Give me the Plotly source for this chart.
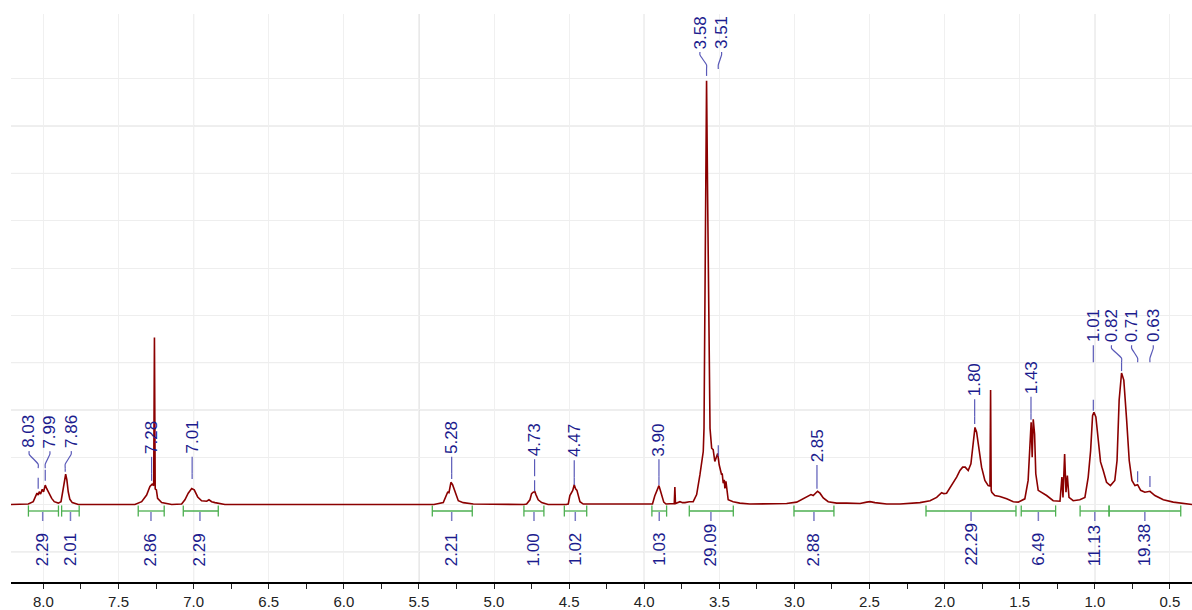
import plotly.graph_objects as go

# ---------------- data ----------------
ppm = [8.216, 8.190, 8.101, 8.068, 8.052, 8.043, 8.035, 8.028, 8.019, 8.008, 7.999, 7.988, 7.979, 7.968, 7.959,
       7.945, 7.928, 7.901, 7.883, 7.872, 7.862, 7.852, 7.844, 7.835, 7.824, 7.808, 7.768,
       7.391, 7.346, 7.313, 7.291, 7.276, 7.266, 7.261, 7.256, 7.248, 7.240, 7.213, 7.146,
       7.080, 7.058, 7.036, 7.013, 6.996, 6.973, 6.947, 6.913, 6.898, 6.880, 6.858, 6.792,
       5.400, 5.338, 5.320, 5.309, 5.300, 5.287, 5.276, 5.267, 5.254, 5.238, 5.205, 5.138,
       4.800, 4.783, 4.761, 4.750, 4.739, 4.728, 4.721, 4.706, 4.683, 4.640,
       4.520, 4.506, 4.495, 4.486, 4.476, 4.466, 4.457, 4.448, 4.439, 4.428, 4.406,
       3.960, 3.945, 3.930, 3.918, 3.910, 3.902, 3.893, 3.885, 3.870, 3.855,
       3.800, 3.796, 3.792, 3.762, 3.745, 3.729, 3.715, 3.700, 3.674, 3.651, 3.629, 3.607, 3.602,
       3.596, 3.589, 3.585, 3.578, 3.571, 3.562, 3.551, 3.541, 3.530, 3.511, 3.501, 3.491, 3.485,
       3.481, 3.474, 3.467, 3.463, 3.456, 3.449, 3.441, 3.408, 3.364, 3.297,
       3.052, 2.985, 2.941, 2.908, 2.890, 2.875, 2.859, 2.846, 2.830, 2.808, 2.775, 2.719, 2.652,
       2.563, 2.519, 2.497, 2.464, 2.386, 2.297,
       2.164, 2.097, 2.053, 2.020, 2.005, 1.987, 1.953, 1.920, 1.898, 1.880, 1.863, 1.843, 1.825,
       1.810, 1.798, 1.787, 1.772, 1.754, 1.732, 1.710, 1.698, 1.694, 1.690, 1.686, 1.666, 1.632,
       1.587, 1.543, 1.510, 1.466, 1.444, 1.432, 1.424, 1.417, 1.410, 1.401, 1.393, 1.377, 1.354,
       1.321, 1.277, 1.232, 1.219, 1.212, 1.201, 1.192, 1.183, 1.172, 1.144, 1.100, 1.066, 1.044,
       1.028, 1.015, 1.006, 0.993, 0.977, 0.962, 0.944, 0.922, 0.896, 0.867, 0.852, 0.838, 0.822,
       0.807, 0.788, 0.771, 0.753, 0.733, 0.715, 0.695, 0.667, 0.633, 0.600, 0.544, 0.478, 0.353]
intensity = [0.0, 0.0, 0.01, 0.06, 0.16, 0.24, 0.20, 0.27, 0.22, 0.32, 0.27, 0.41, 0.34, 0.27, 0.20,
             0.13, 0.06, 0.03, 0.06, 0.24, 0.48, 0.64, 0.52, 0.27, 0.11, 0.04, 0.0,
             0.0, 0.06, 0.20, 0.38, 0.43, 0.40, 3.53, 0.33, 0.31, 0.13, 0.04, 0.0,
             0.01, 0.10, 0.24, 0.34, 0.31, 0.16, 0.08, 0.07, 0.10, 0.06, 0.04, 0.0,
             0.0, 0.04, 0.16, 0.26, 0.25, 0.47, 0.42, 0.33, 0.19, 0.08, 0.04, 0.01,
             0.0, 0.01, 0.10, 0.23, 0.26, 0.27, 0.21, 0.10, 0.04, 0.0,
             0.0, 0.01, 0.19, 0.26, 0.30, 0.42, 0.33, 0.30, 0.21, 0.06, 0.01,
             0.0, 0.01, 0.18, 0.26, 0.33, 0.40, 0.30, 0.22, 0.05, 0.01,
             0.02, 0.37, 0.02, 0.06, 0.04, 0.04, 0.05, 0.06, 0.06, 0.21, 0.63, 1.12, 1.61,
             3.73, 6.55, 8.96, 6.55, 3.73, 1.61, 1.19, 1.16, 0.91, 1.08, 0.84, 0.70, 0.63,
             0.66, 0.45, 0.52, 0.34, 0.49, 0.24, 0.10, 0.06, 0.03, 0.01,
             0.02, 0.05, 0.12, 0.19, 0.21, 0.19, 0.25, 0.28, 0.24, 0.14, 0.06, 0.03, 0.03,
             0.02, 0.05, 0.06, 0.04, 0.01, 0.01,
             0.04, 0.08, 0.15, 0.25, 0.23, 0.24, 0.40, 0.58, 0.72, 0.79, 0.79, 0.72, 0.86,
             1.36, 1.63, 1.53, 1.14, 0.79, 0.51, 0.40, 0.39, 2.42, 0.30, 0.26, 0.19, 0.17,
             0.12, 0.06, 0.05, 0.12, 0.51, 1.49, 1.74, 1.00, 1.80, 1.49, 0.65, 0.30, 0.26,
             0.19, 0.08, 0.07, 0.58, 0.15, 1.07, 0.26, 0.61, 0.15, 0.08, 0.10, 0.15, 0.58,
             1.14, 1.88, 1.95, 1.85, 1.36, 0.90, 0.72, 0.47, 0.40, 0.51, 0.93, 2.21, 2.78,
             2.63, 1.78, 0.93, 0.51, 0.40, 0.42, 0.30, 0.26, 0.28, 0.19, 0.10, 0.05, 0.0]

# peak picking labels
peak_labels = ["8.03", "7.99", "7.86", "7.28", "7.01", "5.28", "4.73", "4.47", "3.90",
               "3.58", "3.51", "2.85", "1.80", "1.43", "1.01", "0.82", "0.71", "0.63"]
peak_ppm = [8.035, 7.988, 7.855, 7.280, 7.010, 5.282, 4.730, 4.466, 3.902,
            3.585, 3.507, 2.850, 1.800, 1.425, 1.010, 0.822, 0.715, 0.633]
label_ppm = [8.095, 7.957, 7.815, 7.280, 7.010, 5.282, 4.730, 4.466, 3.902,
             3.629, 3.485, 2.850, 1.800, 1.425, 1.010, 0.889, 0.755, 0.611]
label_level = [1.17, 1.17, 1.17, 1.05, 1.05, 1.05, 1.00, 0.98, 1.00,
               9.61, 9.61, 0.88, 2.27, 2.32, 3.41, 3.41, 3.41, 3.41]
peak_top = [0.31, 0.48, 0.67, 0.48, 0.52, 0.52, 0.26, 0.39, 0.39,
            9.04, 1.00, 0.31, 1.68, 1.77, 1.96, 2.80, 0.45, 0.35]

# integrals
int_values = ["2.29", "2.01", "2.86", "2.29", "2.21", "1.00", "1.02", "1.03",
              "29.09", "2.88", "22.29", "6.49", "11.13", "19.38"]
int_start = [8.100, 7.879, 7.369, 7.069, 5.411, 4.801, 4.532, 3.949,
             3.700, 3.003, 2.124, 1.490, 1.098, 0.905]
int_end = [7.900, 7.762, 7.196, 6.836, 5.145, 4.668, 4.383, 3.851,
           3.407, 2.737, 1.525, 1.261, 0.905, 0.428]
int_center = [8.005, 7.820, 7.284, 6.958, 5.282, 4.734, 4.459, 3.900,
              3.556, 2.870, 1.824, 1.376, 1.000, 0.667]

x_ticks = [8.0, 7.5, 7.0, 6.5, 6.0, 5.5, 5.0, 4.5, 4.0, 3.5, 3.0, 2.5, 2.0, 1.5, 1.0, 0.5]
major_grid = [7.0, 5.5, 4.0, 2.5, 1.0]
y_grid = [-1, 0, 1, 2, 3, 4, 5, 6, 7, 8, 9]
y_grid_dark = [-1, 2, 3, 7, 8]

# ---------------- styling ----------------
PX = 1 / 47.3          # one pixel in intensity units
SPEC_COLOR = "#8b0000"
LABEL_COLOR = "#1c1c8e"
LEADER_COLOR = "#5a5ab8"
INT_COLOR = "#4caf50"
FONT = "Liberation Sans, Arial, sans-serif"

fig = go.Figure()

fig.add_trace(go.Scatter(x=ppm, y=intensity, mode="lines",
                         line=dict(color=SPEC_COLOR, width=1.6),
                         hoverinfo="skip", showlegend=False))

annotations = []

# peak labels with leaders
for txt, pk, lx, lv, top in zip(peak_labels, peak_ppm, label_ppm, label_level, peak_top):
    y0 = lv - 2 * PX
    y1 = lv - 5 * PX
    y2 = lv - 15 * PX
    y3 = lv - 19 * PX
    fig.add_trace(go.Scatter(x=[lx, lx, pk, pk], y=[y0, y1, y2, y3], mode="lines",
                             line=dict(color=LEADER_COLOR, width=1.2, shape="spline",
                                       smoothing=0.6),
                             hoverinfo="skip", showlegend=False))
    t0 = min(top + 12 * PX, y3)
    fig.add_trace(go.Scatter(x=[pk, pk], y=[t0, top + 1 * PX], mode="lines",
                             line=dict(color=LEADER_COLOR, width=1.2),
                             hoverinfo="skip", showlegend=False))
    annotations.append(dict(x=lx, y=lv, xref="x", yref="y", text=txt, textangle=-90,
                            showarrow=False, xanchor="center", yanchor="bottom",
                            font=dict(family=FONT, size=17, color=LABEL_COLOR),
                            borderpad=0))

# integrals
BAR_V = -0.137
for val, s, e, c in zip(int_values, int_start, int_end, int_center):
    fig.add_trace(go.Scatter(x=[s, e], y=[BAR_V, BAR_V], mode="lines+markers",
                             line=dict(color=INT_COLOR, width=1.3),
                             marker=dict(symbol="line-ns-open", size=8,
                                         line=dict(color=INT_COLOR, width=1.3)),
                             hoverinfo="skip", showlegend=False))
    fig.add_trace(go.Scatter(x=[c, c], y=[BAR_V - 1 * PX, BAR_V - 10 * PX], mode="lines",
                             line=dict(color="#7a7ac4", width=1.5),
                             hoverinfo="skip", showlegend=False))
    annotations.append(dict(x=c, y=BAR_V - 56 * PX, xref="x", yref="y", text=val,
                            textangle=-90, showarrow=False, xanchor="center",
                            yanchor="bottom",
                            font=dict(family=FONT, size=17, color=LABEL_COLOR),
                            borderpad=0))

shapes = []
for g in major_grid:
    shapes.append(dict(type="line", xref="x", yref="paper", x0=g, x1=g, y0=0, y1=1,
                       line=dict(color="#cdcdcd", width=1), layer="below"))
for g in y_grid_dark:
    shapes.append(dict(type="line", xref="paper", yref="y", x0=0, x1=1, y0=g, y1=g,
                       line=dict(color="#d6d6d6", width=1), layer="below"))

fig.update_layout(
    width=1192, height=610,
    margin=dict(l=11, r=0, t=14, b=28),
    paper_bgcolor="white", plot_bgcolor="white",
    annotations=annotations, shapes=shapes,
    xaxis=dict(range=[8.216, 0.353], tickmode="array", tickvals=x_ticks,
               ticktext=[f"{t:.1f}" for t in x_ticks],
               showgrid=True, gridcolor="#f0f0f0", gridwidth=1,
               showline=True, linecolor="black", linewidth=2,
               ticks="outside", ticklen=5, tickcolor="#222", tickwidth=1,
               minor=dict(dtick=0.25, tick0=0, ticks="outside", ticklen=5,
                          tickcolor="#222", showgrid=False),
               tickfont=dict(family=FONT, size=15, color="#222"),
               zeroline=False),
    yaxis=dict(range=[-1.638, 10.37], tickmode="array", tickvals=y_grid,
               showticklabels=False, showgrid=True, gridcolor="#eeeeee",
               zeroline=False, showline=False, ticks=""),
)

fig.write_html("out.html")
